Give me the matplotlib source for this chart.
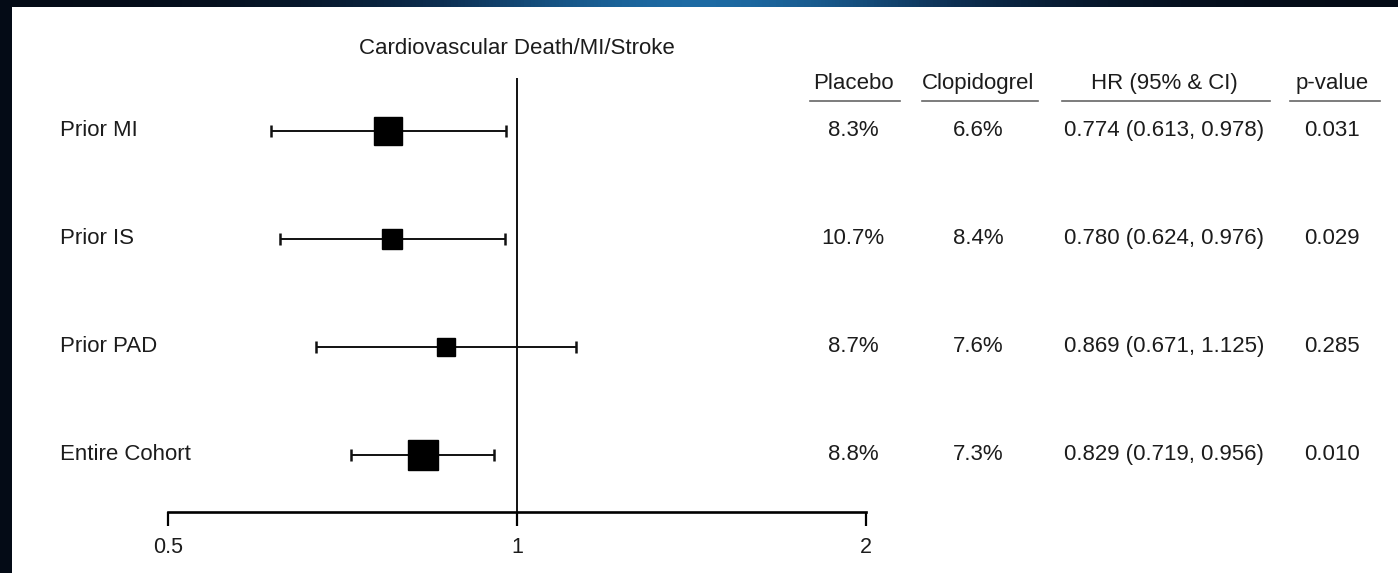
import numpy as np
import matplotlib.pyplot as plt
import matplotlib.transforms as transforms
from matplotlib.colors import LinearSegmentedColormap

plt.rcParams['font.family'] = ['Liberation Sans', 'DejaVu Sans']
plt.rcParams['text.color'] = '#1c1c1c'

# Forest plot data
groups = ['Prior MI', 'Prior IS', 'Prior PAD', 'Entire Cohort']
hr = [0.774, 0.780, 0.869, 0.829]
ci_low = [0.613, 0.624, 0.671, 0.719]
ci_high = [0.978, 0.976, 1.125, 0.956]
placebo = ['8.3%', '10.7%', '8.7%', '8.8%']
clopidogrel = ['6.6%', '8.4%', '7.6%', '7.3%']
p_values = ['0.031', '0.029', '0.285', '0.010']
box_sizes = [19.5, 14.5, 13.5, 21.5]  # marker size in points
xticks = [0.5, 1, 2]

W, H = 1398, 573
FS = 16
fig = plt.figure(figsize=(W / 100, H / 100), dpi=100)

# dark blue slide background with a lighter band along the top
bg = fig.add_axes([0, 0, 1, 1])
xs = np.linspace(0, 1, 400)
row = np.exp(-((xs - 0.5) / 0.22) ** 2)
grad = np.tile(row, (60, 1))
cmap = LinearSegmentedColormap.from_list('slide', ['#040b16', '#0d2f52', '#1d6aa3'])
bg.imshow(grad, cmap=cmap, aspect='auto', extent=[0, 1, 0, 1], vmin=0, vmax=1)
bg.add_patch(plt.Rectangle((12 / W, 0), 1, 1 - 7 / H, transform=bg.transAxes,
                           facecolor='white', edgecolor='none'))
bg.set_axis_off()

def px(x0, y0, x1, y1):
    # pixel box (top-left origin) to figure fraction rect
    return [x0 / W, 1 - y1 / H, (x1 - x0) / W, (y1 - y0) / H]

ax = fig.add_axes(px(168, 78, 866, 512))
ax.set_xscale('log', base=2)
ax.set_xlim(0.5, 2)
ax.set_ylim(0.472, 4.49)
ax.patch.set_alpha(0)

ys = np.arange(len(groups), 0, -1)
for y, m, lo, hi, s in zip(ys, hr, ci_low, ci_high, box_sizes):
    ax.errorbar(m, y, xerr=[[m - lo], [hi - m]], fmt='none', ecolor='#111111',
                elinewidth=1.4, capsize=4, capthick=1.8, zorder=2)
    ax.plot(m, y, marker='s', markersize=s, color='black', zorder=3)

ax.axvline(1, color='#111111', lw=1.4, zorder=1)
for side in ['top', 'right', 'left']:
    ax.spines[side].set_visible(False)
ax.spines['bottom'].set_linewidth(1.9)
ax.set_yticks([])
ax.set_xticks(xticks)
ax.set_xticklabels(['0.5', '1', '2'])
ax.minorticks_off()
ax.tick_params(axis='x', direction='out', length=10, width=1.6, labelsize=15.5,
               pad=8, labelcolor='#1c1c1c')

ax.text(1.0, 4.49 + 0.27, 'Cardiovascular Death/MI/Stroke', ha='center', va='center',
        fontsize=FS, transform=ax.transData, clip_on=False)

# text columns: x in figure pixels, y in row units
tr = transforms.blended_transform_factory(fig.transFigure, ax.transData)
for y, g in zip(ys, groups):
    fig.text(60 / W, y, g, ha='left', va='center', fontsize=FS, transform=tr)

columns = [(853, 'Placebo', placebo, 810, 900),
           (978, 'Clopidogrel', clopidogrel, 922, 1038),
           (1164, 'HR (95% & CI)', [f'{m:.3f} ({lo:.3f}, {hi:.3f})'
                                    for m, lo, hi in zip(hr, ci_low, ci_high)], 1062, 1270),
           (1332, 'p-value', p_values, 1290, 1380)]
for cx, head, vals, u0, u1 in columns:
    fig.text(cx / W, 1 - 84 / H, head, ha='center', va='center', fontsize=FS)
    fig.add_artist(plt.Line2D([u0 / W, u1 / W], [1 - 101 / H, 1 - 101 / H],
                              color='#666666', lw=1.2))
    for y, v in zip(ys, vals):
        fig.text(cx / W, y, v, ha='center', va='center', fontsize=FS, transform=tr)

fig.savefig('out.png', dpi=100)
